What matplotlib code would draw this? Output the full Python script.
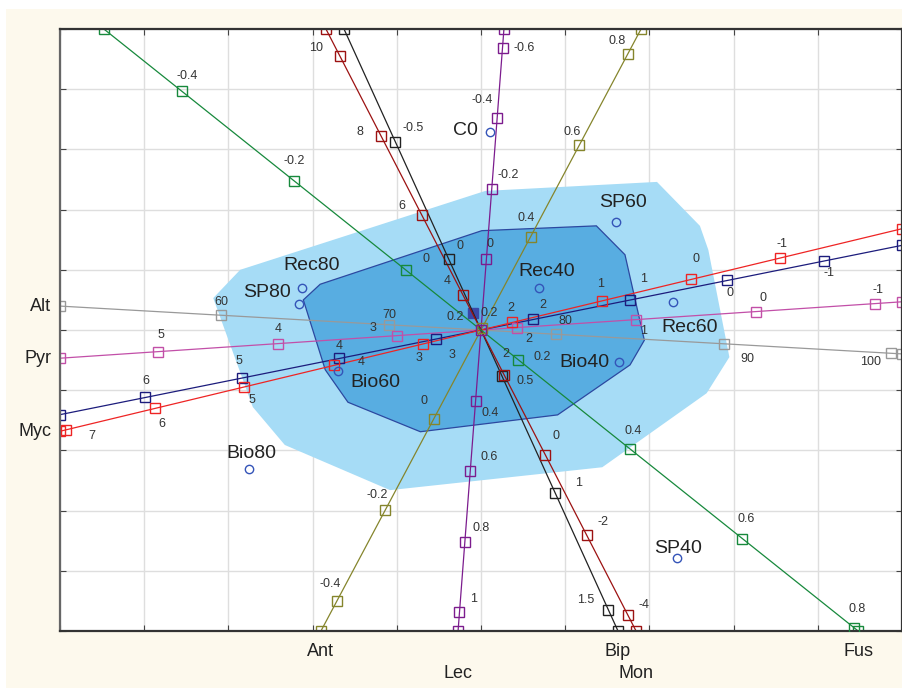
import matplotlib.pyplot as plt
import numpy as np
from matplotlib.patches import Polygon, Rectangle

plt.rcParams['font.family'] = ['Liberation Sans', 'DejaVu Sans']

# sample scores on the first two components
samples = ["C0", "SP60", "Rec80", "SP80", "Rec40", "Rec60", "Bio40", "Bio60", "Bio80", "SP40"]
score_x = [0.11, 1.60, -2.13, -2.16, 0.69, 2.28, 1.64, -1.70, -2.76, 2.33]
score_y = [3.29, 1.79, 0.70, 0.43, 0.70, 0.47, -0.53, -0.68, -2.31, -3.79]

# mean position marker
centroid = (-0.10, 0.28)

# group envelopes
outer_x = [-3.18, -2.86, 0.05, 2.09, 2.60, 2.70, 2.95, 2.68, 1.44, -1.08, -2.33, -2.71]
outer_y = [0.53, 1.00, 2.31, 2.46, 1.73, 1.33, -0.45, -1.05, -2.28, -2.66, -1.91, -1.28]
inner_x = [-2.11, -1.91, 0.01, 1.37, 1.71, 1.94, 1.77, 0.91, -0.72, -1.58, -1.85]
inner_y = [0.50, 0.76, 1.65, 1.73, 1.25, -0.17, -0.58, -1.41, -1.69, -1.20, -0.66]

# calibrated variable axes: value at the origin and shift per unit of the variable
var_names = ["Alt", "Pyr", "", "Myc", "Ant", "Lec", "Bip", "Mon", "Fus"]
var_mean = [75.5, 2.3, 2.54, 2.35, 0.195, 0.2, 0.305, 3.13, 0.134]
var_dx = [0.1989, -1.419, -1.152, -1.061, 2.880, -0.3195, 1.265, -0.2443, 6.660]
var_dy = [-0.0158, -0.133, -0.324, -0.357, 7.575, -5.864, -3.887, 0.6633, -7.434]
var_ticks = [
    [60, 70, 80, 90, 100],
    [5, 4, 3, 2, 1, 0, -1],
    [6, 5, 4, 3, 2, 1, 0, -1],
    [7, 6, 5, 4, 3, 2, 1, 0, -1],
    [-0.4, -0.2, 0, 0.2, 0.4, 0.6, 0.8],
    [-0.6, -0.4, -0.2, 0, 0.2, 0.4, 0.6, 0.8, 1],
    [-0.5, 0, 0.5, 1, 1.5],
    [10, 8, 6, 4, 2, 0, -2, -4],
    [-0.4, -0.2, 0, 0.2, 0.4, 0.6, 0.8],
]

# styling
var_colors = ["#999999", "#c24fa8", "#1c1c7c", "#ee2424", "#85852c",
              "#7c1c8e", "#222222", "#9c1212", "#17893c"]
name_row = [0, 0, 0, 0, 0, 1, 0, 1, 0]
tick_offsets = [
    [(0, -13), (0, -10), (9, -13), (24, 15), (-21, 9)],
    [(3, -17), (0, -15), (-24, -8), (12, 11), (7, 11), (7, -14), (3, -14)],
    [(0, -16), (-3, -17), (0, -12), (16, 16), (9, -14), (13, -21), (3, 13), (5, 12)],
    [(26, 6), (7, 16), (8, 13), (28, -3), (-4, 14), (-1, -14), (-1, -17), (5, -20), (2, -14)],
    [(-7, -17), (-8, -15), (-10, -18), (-27, -11), (-5, -19), (-7, -13), (-11, -13)],
    [(22, 0), (-15, -18), (16, -14), (4, -15), (8, -17), (15, 12), (19, -14), (16, -14), (14, -13)],
    [(18, -14), (11, -13), (23, 5), (24, -10), (-23, -10)],
    [(-24, -8), (-21, -4), (-20, -9), (-16, -14), (2, -21), (11, -19), (16, -13), (16, -10)],
    [(6, -15), (0, -20), (20, -11), (24, -3), (3, -18), (4, -20), (3, -19)],
]
label_offsets = [(-25, -1), (7, -20), (10, -22), (-32, -12), (8, -16),
                 (17, 26), (-35, 1), (38, 12), (3, -16), (1, -10)]

XL = (-5, 5)
YL = (-5, 5)

fig = plt.figure(figsize=(9.03, 6.88), dpi=100)
fig.patches.append(Rectangle((6 / 903, 0), 1, 679 / 688, transform=fig.transFigure,
                             facecolor="#fdf9ed", edgecolor="none", zorder=-1))
ax = fig.add_axes([60 / 903, 57 / 688, 842 / 903, 602 / 688])
ax.set_xlim(XL)
ax.set_ylim(YL)
ax.set_xticks(np.arange(-5, 6))
ax.set_yticks(np.arange(-5, 6))
ax.set_xticklabels([])
ax.set_yticklabels([])
ax.tick_params(direction="in", length=4, top=True, right=True, color="#444444")
ax.grid(True, color="#dedede", lw=1)
ax.set_axisbelow(True)
for side, sp in ax.spines.items():
    sp.set_linewidth(1.6)
    sp.set_color("#666666" if side == "left" else "#333333")

ax.add_patch(Polygon(np.column_stack([outer_x, outer_y]), closed=True,
                     facecolor="#a6dcf6", edgecolor="none", zorder=1))
ax.add_patch(Polygon(np.column_stack([inner_x, inner_y]), closed=True,
                     facecolor="#58ade1", edgecolor="#2c48a0", lw=0.9, zorder=1.1))

for i, name in enumerate(var_names):
    d = np.array([var_dx[i], var_dy[i]])
    lows, highs = [], []
    for lim, comp in ((XL, d[0]), (YL, d[1])):
        a, b = lim[0] / comp, lim[1] / comp
        lows.append(min(a, b))
        highs.append(max(a, b))
    tlo, thi = max(lows), min(highs)
    ends = np.array([tlo * d, thi * d])
    col = var_colors[i]
    ax.plot(ends[:, 0], ends[:, 1], color=col, lw=0.9, marker="s", ms=6.5,
            mfc="none", mec=col, mew=1, zorder=2)

    vals = np.array(var_ticks[i], dtype=float)
    pts = (vals - var_mean[i])[:, None] * d
    ax.plot(pts[:, 0], pts[:, 1], "s", ms=6.5, mfc="none", mec=col, mew=1, zorder=3)
    for v, p, off in zip(vals, pts, tick_offsets[i]):
        ax.annotate(f"{v:g}", p, xytext=(off[0], -off[1]), textcoords="offset pixels",
                    ha="center", va="center", fontsize=9, color="#333333", zorder=5)

    if not name:
        continue
    left_end = [e for e in ends if abs(e[0] - XL[0]) < 1e-6]
    if left_end:
        ax.annotate(name, (XL[0], left_end[0][1]), xytext=(-9, 0), textcoords="offset pixels",
                    ha="right", va="center", fontsize=13, color="#222222",
                    annotation_clip=False)
    else:
        e = min(ends, key=lambda q: q[1])
        ax.annotate(name, (e[0], YL[0]), xytext=(0, -21 - 21 * name_row[i]),
                    textcoords="offset pixels", ha="center", va="center", fontsize=13,
                    color="#222222", annotation_clip=False)

ax.plot(score_x, score_y, "o", ms=6, mfc="none", mec="#3454b8", mew=1, zorder=4)
ax.plot(*centroid, "s", ms=6.5, color="#3a48a8", zorder=1.5)
for s, x, y, off in zip(samples, score_x, score_y, label_offsets):
    ax.annotate(s, (x, y), xytext=(off[0], -off[1]), textcoords="offset pixels",
                ha="center", va="center", fontsize=14, color="#222222", zorder=5)

fig.savefig("out.png", dpi=100)
